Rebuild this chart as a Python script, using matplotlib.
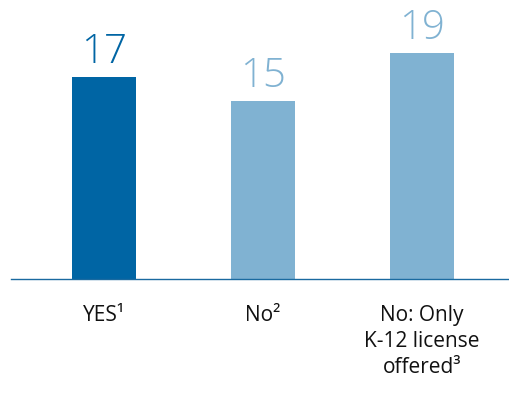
import matplotlib.pyplot as plt
import numpy as np

categories = ["YES\u00b9", "No\u00b2", "No: Only\nK-12 license\noffered\u00b3"]
values = [17, 15, 19]
bar_colors = ["#0065a4", "#80b2d2", "#80b2d2"]

plt.rcParams["font.family"] = ["Open Sans", "DejaVu Sans"]

fig = plt.figure(figsize=(5.09, 4.15), dpi=100)
W, H = 509, 415
base_px = 279
ax = fig.add_axes([11 / W, (H - base_px) / H, 1 - 11 / W, base_px / H])

x = np.arange(len(categories))
ax.bar(x, values, width=0.40, color=bar_colors)

for xi, v, c in zip(x, values, bar_colors):
    ax.annotate(str(v), (xi, v), xytext=(0, 3), textcoords="offset points",
                ha="center", va="bottom", fontsize=29, color=c,
                fontweight="light")

ax.set_xlim(-0.585, 2.547)
ax.set_ylim(0, base_px / 11.88)
ax.set_xticks(x)
ax.set_xticklabels(categories, fontsize=15, color="#111111", linespacing=1.3)
ax.tick_params(axis="x", length=0, pad=19)
ax.set_yticks([])
for side in ["top", "right", "left"]:
    ax.spines[side].set_visible(False)
ax.spines["bottom"].set_color("#1a6aa0")
ax.spines["bottom"].set_linewidth(1.0)

fig.savefig("out.png", dpi=100)
